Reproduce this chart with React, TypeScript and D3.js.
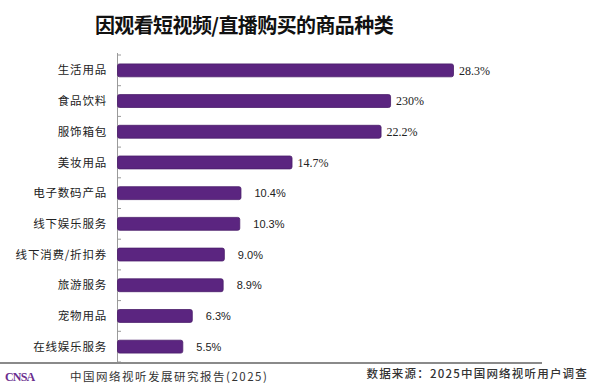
import React from 'react';
import * as d3 from 'd3';

const categories = ["生活用品", "食品饮料", "服饰箱包", "美妆用品", "电子数码产品", "线下娱乐服务", "线下消费/折扣券", "旅游服务", "宠物用品", "在线娱乐服务"];
const values = [28.3, 23.0, 22.2, 14.7, 10.4, 10.3, 9.0, 8.9, 6.3, 5.5];
const valueLabels = ["28.3%", "230%", "22.2%", "14.7%", "10.4%", "10.3%", "9.0%", "8.9%", "6.3%", "5.5%"];

const W = 600;
const H = 386;

const App = () => {
    const x = d3.scaleLinear().domain([0, 28.3]).range([117, 453]);
    const y = d3.scaleBand().domain(categories).range([55, 362]).paddingInner(0.58).paddingOuter(0.29);
    const bh = y.bandwidth();
    const step = y.step();
    // band boundaries for the little ticks
    const ticks = d3.range(categories.length + 1).map(i => 55 + i * step);

    return (
        <svg width={W} height={H} style={{ position: 'absolute', left: 0, top: 0, background: '#fff' }}>
            <text x={244} y={33} textAnchor="middle" fontFamily="'Noto Sans CJK SC', sans-serif" fontWeight="bold" fontSize={20} fill="#111" letterSpacing={-0.6}>
                因观看短视频/直播购买的商品种类
            </text>

            {/* axis */}
            <line x1={117.5} x2={117.5} y1={53} y2={362} stroke="#9a9a9a" strokeWidth={1} />
            {ticks.map((t, i) => (
                <line key={i} x1={117.5} x2={121} y1={t} y2={t} stroke="#9a9a9a" strokeWidth={1} />
            ))}

            {categories.map((c, i) => (
                <g key={c}>
                    <text x={107} y={y(c)! + bh / 2} dy="0.36em" textAnchor="end" fontFamily="'Noto Sans CJK SC', sans-serif" fontSize={11.5} fill="#222" letterSpacing={0.8}>
                        {c}
                    </text>
                    <rect x={x(0) + 0.5} y={y(c)!} width={x(values[i]) - x(0)} height={bh} rx={2} fill="#5b2580" stroke="#4a1d6a" strokeWidth={0.8} />
                    <text x={x(values[i]) + (i < 4 ? 6 : 14)} y={y(c)! + bh / 2} dy="0.36em"
                        fontFamily={i < 4 ? "'Liberation Serif', serif" : "'Liberation Sans', sans-serif"}
                        fontSize={i < 4 ? 12 : 11} fill="#222">
                        {valueLabels[i]}
                    </text>
                </g>
            ))}

            {/* footer */}
            <line x1={0} x2={542} y1={363} y2={363} stroke="#8a8a8a" strokeWidth={2} />
            <text x={5} y={381} fontFamily="'Liberation Serif', serif" fontWeight="bold" fontSize={12} fill="#6a2e8e" letterSpacing={-0.8}>CNSA</text>
            <text x={70} y={381} fontFamily="'Noto Sans CJK SC', sans-serif" fontSize={11.5} fill="#333" letterSpacing={1.5}>中国网络视听发展研究报告(2025)</text>
            <text x={588} y={378} textAnchor="end" fontFamily="'Noto Sans CJK SC', sans-serif" fontWeight={500} fontSize={11.5} fill="#333" letterSpacing={1.2}>数据来源：2025中国网络视听用户调查</text>
        </svg>
    );
};

export default App;
